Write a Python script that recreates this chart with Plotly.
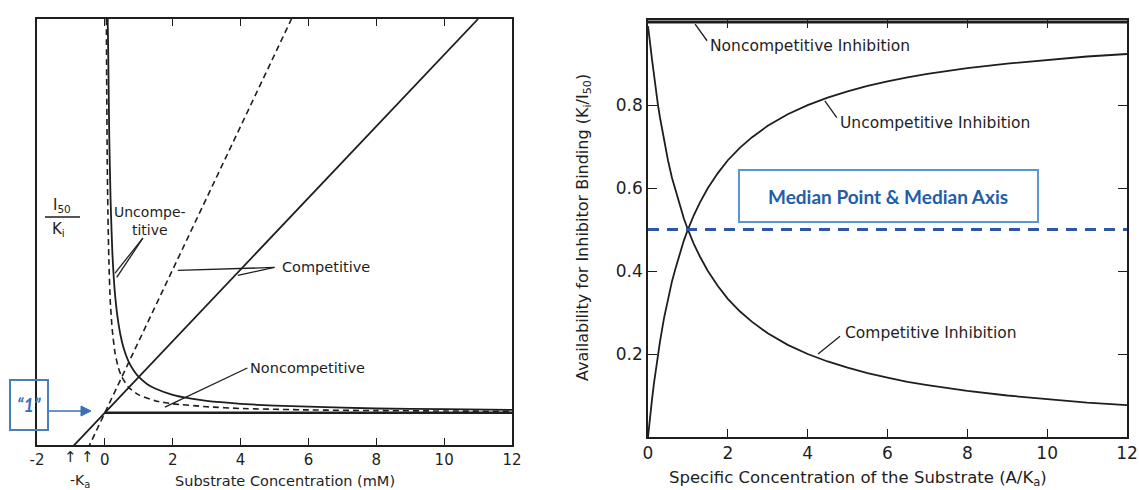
import plotly.graph_objects as go

# ---------------- data ----------------
# Left panel: I50/Ki vs substrate concentration (mM)
comp_solid_x = [-1.0, 11.0]
comp_solid_y = [0.0, 12.0]
comp_dash_x = [-0.5, 5.5]
comp_dash_y = [0.0, 12.0]
uncomp_solid_x = [0.083, 0.1, 0.13, 0.17, 0.22, 0.3, 0.4, 0.5, 0.6, 0.7, 0.85, 1.0, 1.25, 1.5, 2.0, 2.5, 3.0, 4.0, 5.0, 6.0, 8.0, 10.0, 12.0]
uncomp_solid_y = [12.0, 11.0, 8.7, 6.9, 5.5, 4.3, 3.5, 3.0, 2.67, 2.43, 2.18, 2.0, 1.8, 1.67, 1.5, 1.4, 1.33, 1.25, 1.2, 1.17, 1.12, 1.1, 1.08]
uncomp_dash_x = [0.045, 0.055, 0.07, 0.09, 0.12, 0.16, 0.22, 0.3, 0.4, 0.5, 0.7, 1.0, 1.5, 2.0, 3.0, 4.0, 6.0, 8.0, 10.0, 12.0]
uncomp_dash_y = [12.0, 10.1, 8.1, 6.6, 5.2, 4.1, 3.3, 2.67, 2.25, 2.0, 1.71, 1.5, 1.33, 1.25, 1.17, 1.12, 1.08, 1.06, 1.05, 1.04]
noncomp_x = [0.0, 12.0]
noncomp_y = [1.0, 1.0]
left_xticks = [-2, 0, 2, 4, 6, 8, 10, 12]
left_yticks = [2, 4, 6, 8, 10, 12]

# Right panel: availability for inhibitor binding (Ki/I50) vs A/Ka
avail_x = [0.0, 0.03, 0.06, 0.1, 0.15, 0.2, 0.25, 0.3, 0.4, 0.5, 0.6, 0.7, 0.8, 0.9, 1.0, 1.15, 1.3, 1.5, 1.75, 2.0,
           2.3, 2.6, 3.0, 3.5, 4.0, 4.5, 5.0, 5.5, 6.0, 6.5, 7.0, 8.0, 9.0, 10.0, 11.0, 12.0]
avail_uncomp = [0.0, 0.03, 0.057, 0.09, 0.13, 0.167, 0.2, 0.23, 0.286, 0.333, 0.375, 0.41, 0.444, 0.474, 0.5, 0.535, 0.565, 0.6, 0.636, 0.667,
                0.697, 0.722, 0.75, 0.778, 0.8, 0.818, 0.833, 0.846, 0.857, 0.867, 0.875, 0.889, 0.9, 0.909, 0.917, 0.923]
avail_comp = [0.99, 0.97, 0.943, 0.91, 0.87, 0.833, 0.8, 0.77, 0.714, 0.667, 0.625, 0.59, 0.556, 0.526, 0.5, 0.465, 0.435, 0.4, 0.364, 0.333,
              0.303, 0.278, 0.25, 0.222, 0.2, 0.182, 0.167, 0.154, 0.143, 0.133, 0.125, 0.111, 0.1, 0.091, 0.083, 0.077]
avail_noncomp_x = [0.0, 12.0]
avail_noncomp_y = [1.0, 1.0]
median_x = [0.0, 12.0]
median_y = [0.5, 0.5]
right_xticks = [0, 2, 4, 6, 8, 10, 12]
right_yticks = [0.2, 0.4, 0.6, 0.8]

# ---------------- styling helpers ----------------
W, H = 1139, 490
INK = "#1e1e1e"
FONT = "DejaVu Sans"
BLUE_TXT = "#1f5ea8"
BLUE_BOX = "#5b95d3"
BLUE_LINE = "#2f55a6"
BLUE_CALL = "#3b6fb6"


def PX(px):
    return px / W


def PY(py):
    return 1 - py / H


fig = go.Figure()

line_solid = dict(color=INK, width=1.8)
line_dash = dict(color=INK, width=1.6, dash="6px,4px")

# left panel traces
fig.add_trace(go.Scatter(x=comp_solid_x, y=comp_solid_y, mode="lines", line=line_solid, xaxis="x", yaxis="y"))
fig.add_trace(go.Scatter(x=comp_dash_x, y=comp_dash_y, mode="lines", line=line_dash, xaxis="x", yaxis="y"))
fig.add_trace(go.Scatter(x=uncomp_solid_x, y=uncomp_solid_y, mode="lines", line=dict(line_solid, shape="spline", smoothing=0.5), xaxis="x", yaxis="y"))
fig.add_trace(go.Scatter(x=uncomp_dash_x, y=uncomp_dash_y, mode="lines", line=dict(line_dash, shape="spline", smoothing=0.5), xaxis="x", yaxis="y"))
fig.add_trace(go.Scatter(x=noncomp_x, y=noncomp_y, mode="lines", line=dict(color=INK, width=2.6), xaxis="x", yaxis="y"))

# right panel traces
fig.add_trace(go.Scatter(x=avail_noncomp_x, y=avail_noncomp_y, mode="lines", line=dict(color=INK, width=3), xaxis="x2", yaxis="y4"))
fig.add_trace(go.Scatter(x=avail_x, y=avail_uncomp, mode="lines", line=line_solid, xaxis="x2", yaxis="y4"))
fig.add_trace(go.Scatter(x=avail_x, y=avail_comp, mode="lines", line=line_solid, xaxis="x2", yaxis="y4"))
fig.add_trace(go.Scatter(x=median_x, y=median_y, mode="lines", line=dict(color=BLUE_LINE, width=3, dash="11px,8px"), xaxis="x2", yaxis="y4"))

axis_common = dict(showgrid=False, zeroline=False, showline=True, linecolor=INK, linewidth=1.5,
                   tickcolor=INK, tickwidth=1.3, automargin=False)
left_range_y = [0.1, 12]

fig.update_layout(
    template="none",
    width=W, height=H, autosize=False,
    margin=dict(l=0, r=0, t=0, b=0, pad=0),
    paper_bgcolor="white", plot_bgcolor="white",
    showlegend=False,
    font=dict(family=FONT, color=INK, size=15),
    xaxis=dict(axis_common, domain=[PX(37), PX(512)], range=[-2, 12], anchor="y",
               tickvals=left_xticks, ticktext=[str(v) for v in left_xticks],
               ticks="inside", ticklen=7, mirror="ticks", tickfont=dict(size=15)),
    yaxis=dict(axis_common, domain=[PY(445), PY(19)], range=left_range_y, anchor="x",
               ticks="", showticklabels=False, mirror=True),
    yaxis2=dict(axis_common, overlaying="y", side="right", anchor="x", range=left_range_y,
                tickvals=left_yticks[:-1], ticks="inside", ticklen=7, showticklabels=False, showline=False),
    yaxis3=dict(axis_common, overlaying="y", side="left", anchor="free", position=PX(105), range=left_range_y,
                tickvals=left_yticks, ticktext=[str(v) for v in left_yticks],
                ticks="outside", ticklen=7, tickfont=dict(size=15)),
    xaxis2=dict(axis_common, domain=[PX(648), PX(1127)], range=[0, 12], anchor="y4",
                tickvals=right_xticks, ticktext=[str(v) for v in right_xticks],
                ticks="inside", ticklen=8, mirror="ticks", tickfont=dict(size=17)),
    yaxis4=dict(axis_common, domain=[PY(437), PY(20)], range=[0, 1.005], anchor="x2",
                tickvals=right_yticks, ticktext=["0.2", "0.4", "0.6", "0.8"],
                ticks="inside", ticklen=9, mirror="ticks", tickfont=dict(size=17)),
)

ann = []
shapes = []


def text(px, py, s, size=15, xanchor="left", color=INK, family=FONT, angle=0, align="left"):
    ann.append(dict(x=PX(px), y=PY(py), xref="paper", yref="paper", text=s, showarrow=False,
                    xanchor=xanchor, yanchor="middle", align=align, textangle=angle,
                    font=dict(size=size, color=color, family=family)))


def data_text(x, y, s, xref, yref, size=15, color=INK):
    ann.append(dict(x=x, y=y, xref=xref, yref=yref, text=s, showarrow=False,
                    xanchor="center", yanchor="middle", font=dict(size=size, color=color, family=FONT)))


def leader(x0, y0, x1, y1, xref, yref, color=INK, width=1.3):
    shapes.append(dict(type="line", xref=xref, yref=yref, x0=x0, y0=y0, x1=x1, y1=y1,
                       line=dict(color=color, width=width)))


# left panel labels and leaders (leader ends in data units)
text(150, 221, "Uncompe-<br>titive", size=14, xanchor="center", align="center")
text(280, 267, "Competitive", size=14.5)
text(248, 368, "Noncompetitive", size=14.5)
leader(0.30, 4.9, 1.12, 5.88, "x", "y")
leader(0.35, 4.78, 1.12, 5.88, "x", "y")
leader(2.15, 4.98, 5.0, 5.06, "x", "y")
leader(3.92, 4.84, 5.0, 5.06, "x", "y")
leader(1.77, 1.16, 4.2, 2.25, "x", "y")

# left axis title (fraction) and x titles
text(62, 206, "I<sub>50</sub>", size=15, xanchor="center")
text(58, 229, "K<sub>i</sub>", size=15, xanchor="center")
shapes.append(dict(type="line", xref="paper", yref="paper", x0=PX(45), x1=PX(80), y0=PY(217), y1=PY(217),
                   line=dict(color=INK, width=1.3)))
text(80, 481, "-K<sub>a</sub>", size=14, xanchor="center")
text(285, 481, "Substrate Concentration (mM)", size=14.5, xanchor="center")
data_text(-1.0, PY(457), "↑", "x", "paper", size=15)
data_text(-0.5, PY(457), "↑", "x", "paper", size=15)

# "1" call-out box + arrow
text(29, 405, "<b><i>“1”</i></b>", size=18, xanchor="center", color=BLUE_CALL, family="Lato")
shapes.append(dict(type="rect", xref="paper", yref="paper", x0=PX(10), x1=PX(48), y0=PY(430), y1=PY(380),
                   line=dict(color="#4a7ebb", width=2), fillcolor="rgba(0,0,0,0)"))
shapes.append(dict(type="line", xref="paper", yref="paper", x0=PX(49), x1=PX(82), y0=PY(411), y1=PY(411),
                   line=dict(color=BLUE_CALL, width=1.6)))
shapes.append(dict(type="path", xref="paper", yref="paper",
                   path=f"M {PX(81)},{PY(406)} L {PX(91)},{PY(411)} L {PX(81)},{PY(416)} Z",
                   fillcolor=BLUE_CALL, line=dict(color=BLUE_CALL, width=1)))

# right panel labels and leaders
text(708, 46, "Noncompetitive Inhibition", size=15.5)
text(838, 123, "Uncompetitive Inhibition", size=15.5)
text(843, 333, "Competitive Inhibition", size=15.5)
leader(1.18, 0.995, 1.48, 0.955, "x2", "y4")
leader(4.43, 0.81, 4.73, 0.77, "x2", "y4")
leader(4.26, 0.2, 4.81, 0.243, "x2", "y4")

text(583, 228, "Availability for Inhibitor Binding (K<sub>i</sub>/I<sub>50</sub>)", size=16,
     xanchor="center", angle=-90)
text(858, 478, "Specific Concentration of the Substrate (A/K<sub>a</sub>)", size=16.5, xanchor="center")

# median call-out
shapes.append(dict(type="rect", xref="paper", yref="paper", x0=PX(739), x1=PX(1038), y0=PY(222), y1=PY(170),
                   line=dict(color=BLUE_BOX, width=2), fillcolor="white"))
text(888, 196, "<b>Median Point &amp; Median Axis</b>", size=19, xanchor="center", color=BLUE_TXT, family="Lato")

fig.update_layout(annotations=ann, shapes=shapes)

post = (
    "document.body.style.margin='0';document.body.style.padding='0';"
    "document.body.style.overflow='hidden';"
    "document.documentElement.style.overflow='hidden';"
    "var gd=document.getElementById('{plot_id}');"
    "Plotly.relayout(gd,{width:1139,height:490});"
)
fig.write_html("out.html", post_script=post,
               config={"displayModeBar": False, "responsive": False},
               default_width="1139px", default_height="490px")
